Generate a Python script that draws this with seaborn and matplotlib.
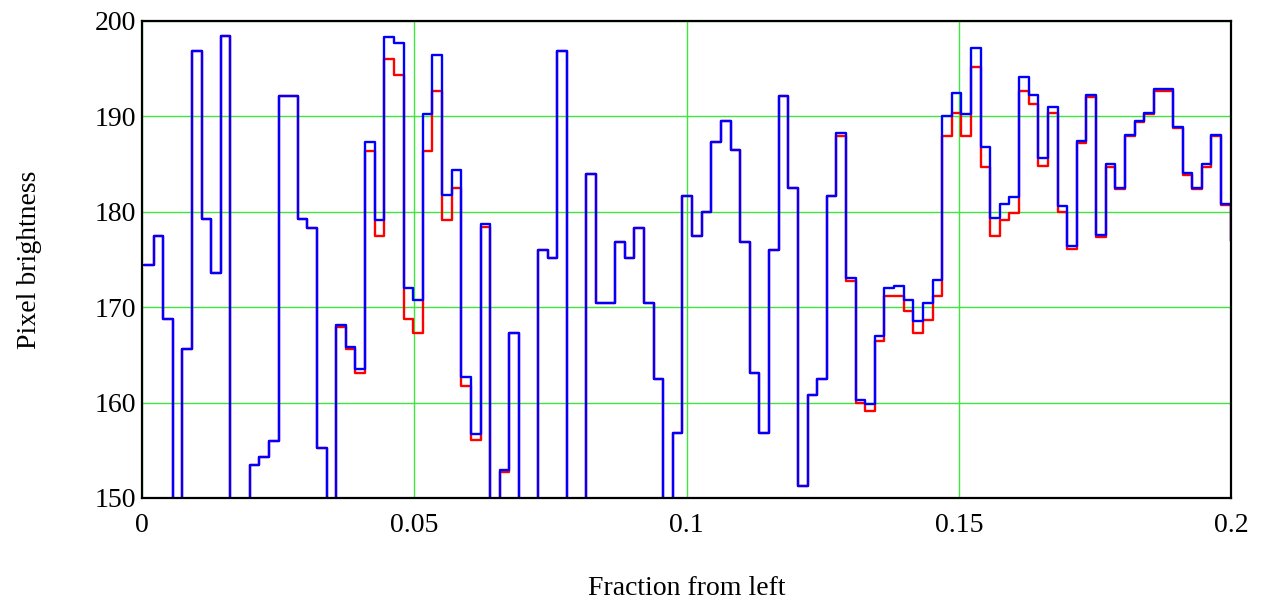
import numpy as np
import pandas as pd
import seaborn as sns
import matplotlib
matplotlib.use("Agg")
import matplotlib.pyplot as plt

# step values (values below 150 fall off the plot)
blue_vals = [174.4, 177.5, 168.8, 140.0, 165.6, 196.9, 179.2, 173.55, 198.4, 140.0,
             140.0, 153.5, 154.3, 156.0, 192.1, 192.1, 179.2, 178.3, 155.2, 140.0,
             168.1, 165.8, 163.5, 187.3, 179.1, 198.3, 197.7, 172.0, 170.75, 190.2,
             196.4, 181.8, 184.4, 162.7, 156.7, 178.7, 140.0, 152.9, 167.3, 140.0,
             140.0, 176.0, 175.2, 196.9, 140.0, 140.0, 184.0, 170.4, 170.4, 176.8,
             175.2, 178.3, 170.4, 162.5, 140.0, 156.85, 181.7, 177.5, 180.0, 187.3,
             189.55, 186.5, 176.8, 163.1, 156.85, 176.0, 192.1, 182.5, 151.2, 160.8,
             162.5, 181.7, 188.3, 173.1, 160.3, 159.85, 167.0, 172.0, 172.25, 170.8,
             168.55, 170.4, 172.85, 190.0, 192.5, 190.2, 197.2, 186.8, 179.3, 180.8,
             181.5, 194.1, 192.2, 185.6, 191.0, 180.6, 176.45, 187.4, 192.2, 177.6,
             185.0, 182.5, 188.1, 189.5, 190.4, 192.9, 192.9, 188.9, 184.1, 182.5,
             185.0, 188.1, 180.8, 176.9]

red_vals = [174.4, 177.5, 168.8, 140.0, 165.6, 196.9, 179.2, 173.55, 198.4, 140.0,
            140.0, 153.5, 154.3, 156.0, 192.1, 192.1, 179.2, 178.3, 155.2, 140.0,
            167.9, 165.6, 163.1, 186.4, 177.5, 196.05, 194.3, 168.8, 167.3, 186.4,
            192.7, 179.1, 182.5, 161.7, 156.1, 178.4, 140.0, 152.7, 167.3, 140.0,
            140.0, 176.0, 175.2, 196.9, 140.0, 140.0, 184.0, 170.4, 170.4, 176.8,
            175.2, 178.3, 170.4, 162.5, 140.0, 156.85, 181.7, 177.5, 180.0, 187.3,
            189.55, 186.5, 176.8, 163.1, 156.85, 176.0, 192.1, 182.5, 151.2, 160.8,
            162.5, 181.7, 187.9, 172.75, 160.0, 159.15, 166.5, 171.2, 171.2, 169.6,
            167.3, 168.7, 171.2, 187.9, 190.4, 187.9, 195.2, 184.7, 177.5, 179.1,
            179.9, 192.7, 191.3, 184.8, 190.4, 180.0, 176.1, 187.2, 192.0, 177.4,
            184.7, 182.4, 187.9, 189.4, 190.3, 192.7, 192.7, 188.75, 183.9, 182.4,
            184.7, 187.9, 180.7, 176.9]

image_width = 566.4          # columns per unit fraction
x_ticks = [0, 0.05, 0.1, 0.15, 0.2]
x_labels = ["0", "0.05", "0.1", "0.15", "0.2"]
y_ticks = [150, 160, 170, 180, 190, 200]

rows = []
for name, vals in [("red", red_vals), ("blue", blue_vals)]:
    xs = (np.arange(len(vals)) + 0.2) / image_width
    for x, y in zip(xs, vals):
        rows.append((x, y, name))
    rows.append((0.2, vals[-1], name))
df = pd.DataFrame(rows, columns=["x", "y", "series"])

sns.set_style("white")
plt.rcParams["font.family"] = ["Liberation Serif", "DejaVu Serif"]
plt.rcParams["text.color"] = "black"
plt.rcParams["axes.labelcolor"] = "black"

fig = plt.figure(figsize=(12.62, 6.05), dpi=100)
ax = fig.add_axes([0.1125, 0.177, 0.8633, 0.7883])

sns.lineplot(data=df, x="x", y="y", hue="series", hue_order=["red", "blue"],
             palette={"red": "#ff0000", "blue": "#0000ff"}, estimator=None,
             drawstyle="steps-post", linewidth=1.7, legend=False, ax=ax, zorder=3)

ax.set_xlim(0, 0.2)
ax.set_ylim(150, 200)
ax.set_xticks(x_ticks)
ax.set_xticklabels(x_labels)
ax.set_yticks(y_ticks)
ax.grid(True, color="#3ee63e", linewidth=1.0, zorder=0)
ax.tick_params(axis="both", length=0, labelsize=20, colors="black")
ax.tick_params(axis="x", pad=11)
ax.tick_params(axis="y", pad=4)
for s in ax.spines.values():
    s.set_color("black")
    s.set_linewidth(1.6)
    s.set_zorder(5)

ax.set_xlabel("Fraction from left", fontsize=20, labelpad=27, color="black")
ax.set_ylabel("Pixel brightness", fontsize=20, labelpad=38, color="black")

fig.savefig("out.png", dpi=100)
